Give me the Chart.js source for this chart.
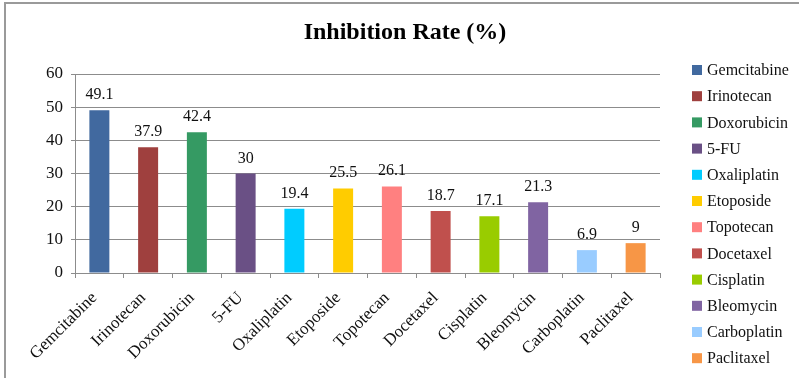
<!DOCTYPE html>
<html>
<head>
<meta charset="utf-8">
<script src="https://cdn.jsdelivr.net/npm/chart.js@4/dist/chart.umd.min.js"></script>
<style>
  html, body { margin: 0; padding: 0; background: #fff; }
  #wrap { width: 799px; height: 378px; }
</style>
</head>
<body>
<div id="wrap"><canvas id="chart" width="799" height="378"></canvas></div>
<script>
// Inhibition rate of each drug, in percent
const drugs = ['Gemcitabine', 'Irinotecan', 'Doxorubicin', '5-FU', 'Oxaliplatin', 'Etoposide',
               'Topotecan', 'Docetaxel', 'Cisplatin', 'Bleomycin', 'Carboplatin', 'Paclitaxel'];
const inhibitionRate = [49.1, 37.9, 42.4, 30, 19.4, 25.5, 26.1, 18.7, 17.1, 21.3, 6.9, 9];
const barColors = ['#41699F', '#9F403E', '#359A63', '#6A5085', '#00CCFF', '#FFCC00',
                   '#FF8080', '#C0504D', '#99CC00', '#8064A2', '#99CCFF', '#F79646'];
const yTicks = [0, 10, 20, 30, 40, 50, 60];
const chartTitle = 'Inhibition Rate (%)';

const SERIF = '"Liberation Serif", "Times New Roman", serif';
const GRID = '#8C8C8C';

// Frame around the figure (top and left edges) and the centred title
const framePlugin = {
  id: 'frame',
  beforeDraw(chart) {
    const ctx = chart.ctx;
    ctx.save();
    ctx.fillStyle = '#fff';
    ctx.fillRect(0, 0, chart.width, chart.height);
    ctx.strokeStyle = '#9A9A9A';
    ctx.lineWidth = 2;
    ctx.beginPath();
    ctx.moveTo(5, chart.height);
    ctx.lineTo(5, 3);
    ctx.lineTo(chart.width, 3);
    ctx.stroke();
    ctx.fillStyle = '#000';
    ctx.font = 'bold 24px ' + SERIF;
    ctx.textAlign = 'center';
    ctx.textBaseline = 'middle';
    ctx.fillText(chartTitle, 405, 33);
    ctx.restore();
  }
};

// Value printed above each bar
const valueLabels = {
  id: 'valueLabels',
  afterDatasetsDraw(chart) {
    const ctx = chart.ctx;
    const meta = chart.getDatasetMeta(0);
    ctx.save();
    ctx.font = '16px ' + SERIF;
    ctx.fillStyle = '#111';
    ctx.textAlign = 'center';
    ctx.textBaseline = 'alphabetic';
    meta.data.forEach((bar, i) => {
      ctx.fillText(String(inhibitionRate[i]), bar.x, bar.y - 11);
    });
    ctx.restore();
  }
};

// Legend column on the right, one entry per drug
const sideLegend = {
  id: 'sideLegend',
  afterDraw(chart) {
    const ctx = chart.ctx;
    const labels = chart.data.labels;
    const colors = chart.data.datasets[0].backgroundColor;
    const x0 = 692, y0 = 70, step = 26.2, box = 10;
    ctx.save();
    ctx.font = '16px ' + SERIF;
    ctx.textBaseline = 'middle';
    ctx.textAlign = 'left';
    labels.forEach((name, i) => {
      const cy = y0 + i * step;
      ctx.fillStyle = colors[i];
      ctx.fillRect(x0, cy - box / 2, box, box);
      ctx.fillStyle = '#111';
      ctx.fillText(name, x0 + 15, cy + 1);
    });
    ctx.restore();
  }
};

new Chart(document.getElementById('chart'), {
  type: 'bar',
  data: {
    labels: drugs,
    datasets: [{
      label: chartTitle,
      data: inhibitionRate,
      backgroundColor: barColors,
      borderWidth: 0,
      categoryPercentage: 1,
      barPercentage: 0.41
    }]
  },
  options: {
    responsive: false,
    animation: false,
    devicePixelRatio: 1,
    layout: { padding: { left: 0, right: 139, top: 74, bottom: 5 } },
    plugins: {
      legend: { display: false },
      tooltip: { enabled: false },
      title: { display: false }
    },
    scales: {
      x: {
        afterFit(scale) { scale.height = 100; },
        grid: { display: true, drawOnChartArea: false, offset: true, color: GRID, tickLength: 5 },
        border: { color: GRID, width: 1 },
        ticks: {
          color: '#111',
          font: { family: SERIF, size: 17 },
          minRotation: 45,
          maxRotation: 45,
          autoSkip: false,
          padding: 10,
          labelOffset: -5
        }
      },
      y: {
        min: 0,
        max: 60,
        afterBuildTicks(scale) { scale.ticks = yTicks.map(v => ({ value: v })); },
        afterFit(scale) { scale.width = 75; },
        grid: { color: GRID, lineWidth: 1, tickLength: 4 },
        border: { color: GRID, width: 1 },
        ticks: {
          color: '#111',
          font: { family: SERIF, size: 17 },
          padding: 8
        }
      }
    }
  },
  plugins: [framePlugin, valueLabels, sideLegend]
});
</script>
</body>
</html>
